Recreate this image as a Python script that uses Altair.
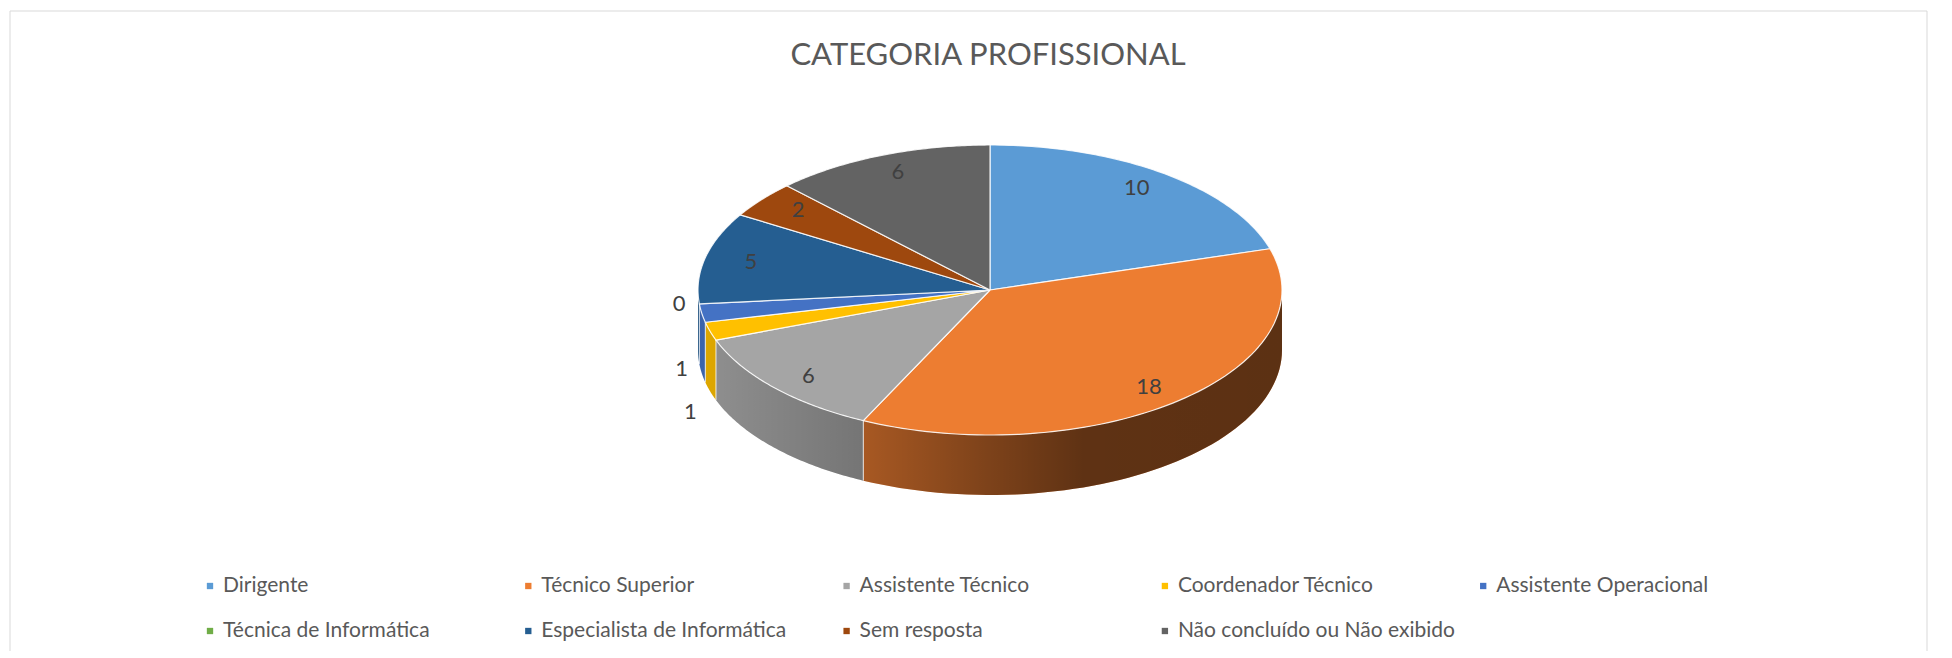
import altair as alt
import pandas as pd

# ---------------- data ----------------
categories = [
    "Dirigente",
    "Técnico Superior",
    "Assistente Técnico",
    "Coordenador Técnico",
    "Assistente Operacional",
    "Técnica de Informática",
    "Especialista de Informática",
    "Sem resposta",
    "Não concluído ou Não exibido",
]
values = [10, 18, 6, 1, 1, 0, 5, 2, 6]
colors = ["#5B9BD5", "#ED7D31", "#A5A5A5", "#FFC000", "#4472C4",
          "#70AD47", "#255E91", "#9E480E", "#636363"]
title_text = "CATEGORIA PROFISSIONAL"

# ---------------- layout ----------------
W, H = 1917, 640
CX, CY, RX, RY, D = 980, 279, 292, 145, 60
LX0, LSTEP, LY0, LROW = 200, 318.3, 575, 45
FONT = "Lato"

df = pd.DataFrame({"cat": categories, "value": values,
                   "idx": list(range(len(categories)))})

X = alt.X("px:Q", scale=alt.Scale(domain=[0, W], nice=False, zero=False), axis=None)
Y = alt.Y("py:Q", scale=alt.Scale(domain=[0, H], reverse=True, nice=False, zero=False),
          axis=None, stack=None)
cscale = alt.Scale(domain=categories, range=colors)

base = alt.Chart(df).transform_window(
    cum="sum(value)", sort=[alt.SortField("idx")], frame=[None, 0]
).transform_joinaggregate(total="sum(value)").transform_calculate(
    a0="2*PI*(datum.cum - datum.value)/datum.total",
    a1="2*PI*datum.cum/datum.total",
)

# ---- visible side (front half of the cylinder) ----
side_src = base.transform_calculate(
    s0="max(datum.a0, PI/2)", s1="min(datum.a1, 3*PI/2)"
).transform_filter("datum.s1 > datum.s0").transform_calculate(
    k="sequence(0, 61)"
).transform_flatten(["k"]).transform_calculate(
    ang="datum.s0 + (datum.s1 - datum.s0)*datum.k/60",
    px=f"{CX} + {RX}*sin(datum.ang)",
    py=f"{CY} - {RY}*cos(datum.ang)",
    py2=f"{CY} - {RY}*cos(datum.ang) + {D}",
)

side = side_src.mark_area(opacity=1).encode(
    x=X, y=Y, y2="py2:Q",
    color=alt.Color("cat:N", scale=cscale, legend=None),
)

shade_grad = {
    "gradient": "linear", "x1": 0, "x2": 1, "y1": 0, "y2": 0,
    "stops": [
        {"offset": 0.0, "color": "rgba(0,0,0,0.12)"},
        {"offset": 0.28, "color": "rgba(0,0,0,0.29)"},
        {"offset": 0.48, "color": "rgba(0,0,0,0.46)"},
        {"offset": 0.66, "color": "rgba(0,0,0,0.60)"},
        {"offset": 1.0, "color": "rgba(0,0,0,0.61)"},
    ],
}
shade = side_src.mark_area(color=shade_grad).encode(x=X, y=Y, y2="py2:Q")

edges = base.transform_filter(
    "datum.value > 0 && datum.a1 > PI/2 && datum.a1 < 3*PI/2"
).transform_calculate(
    px=f"{CX} + {RX}*sin(datum.a1)",
    py=f"{CY} - {RY}*cos(datum.a1)",
    py2=f"{CY} - {RY}*cos(datum.a1) + {D}",
).mark_rule(color="white", strokeWidth=1, opacity=0.8).encode(x=X, y=Y, y2="py2:Q")

# ---- top face wedges ----
top = base.transform_filter("datum.value > 0").transform_calculate(
    k="sequence(0, 83)"
).transform_flatten(["k"]).transform_calculate(
    t="(datum.k == 0 || datum.k == 82) ? -1 : (datum.k - 1)/80",
).transform_calculate(
    ang="datum.a0 + (datum.a1 - datum.a0)*max(datum.t, 0)",
).transform_calculate(
    px=f"datum.t < 0 ? {CX} : {CX} + {RX}*sin(datum.ang)",
    py=f"datum.t < 0 ? {CY} : {CY} - {RY}*cos(datum.ang)",
).mark_line(stroke="white", strokeWidth=1.2, strokeOpacity=0.85, strokeJoin="round").encode(
    x=X, y=Y, order="k:Q", detail="cat:N",
    fill=alt.Fill("cat:N", scale=cscale, legend=None),
)

# ---- data labels ----
labels = base.transform_calculate(
    mid="(datum.a0 + datum.a1)/2",
    small="datum.value/datum.total < 0.03",
).transform_calculate(
    px=f"datum.small ? {CX} + 1.07*{RX}*sin(datum.mid) : {CX} + 0.84*{RX}*sin(datum.mid)",
    py=(f"datum.small ? (datum.value == 0 ? {CY} - {RY}*cos(datum.mid) : "
        f"{CY} - 2.4*{RY}*cos(datum.mid) + 23) : {CY} - 0.88*{RY}*cos(datum.mid)"),
).mark_text(font=FONT, fontSize=22, color="#404040", baseline="middle").encode(
    x=X, y=Y, text="value:Q"
)

# ---- legend ----
legend_base = alt.Chart(df).transform_calculate(
    px=f"{LX0} + (datum.idx % 5)*{LSTEP}",
    py=f"{LY0} + floor(datum.idx/5)*{LROW}",
)
leg_sym = legend_base.mark_square(size=40, opacity=1).encode(
    x=X, y=Y, color=alt.Color("cat:N", scale=cscale, legend=None)
)
leg_txt = legend_base.mark_text(
    align="left", baseline="middle", dx=13, font=FONT, fontSize=21, color="#595959"
).encode(x=X, y=Y, text="cat:N")

# ---- title ----
title = alt.Chart(pd.DataFrame({"t": [title_text]})).mark_text(
    font=FONT, fontSize=31, color="#595959", align="center", baseline="alphabetic"
).encode(text="t:N", x=alt.value(978), y=alt.value(54))

# ---- chart-area border ----
one = pd.DataFrame({"a": [0]})
bcol = "#D9D9D9"
b_left = alt.Chart(one).mark_rule(color=bcol).encode(x=alt.value(0), y=alt.value(0), y2=alt.value(H))
b_top = alt.Chart(one).mark_rule(color=bcol).encode(x=alt.value(0), x2=alt.value(W), y=alt.value(0))
b_right = alt.Chart(one).mark_rule(color=bcol).encode(x=alt.value(W), y=alt.value(0), y2=alt.value(H))

chart = alt.layer(
    b_left, b_top, b_right, side, shade, edges, top, labels, leg_sym, leg_txt, title
).properties(
    width=W, height=H,
    padding={"left": 1, "top": 2, "right": 0, "bottom": 0},
    background="white",
).configure_view(stroke=None)

chart.save("out.html", embed_options={"renderer": "svg", "actions": False})
